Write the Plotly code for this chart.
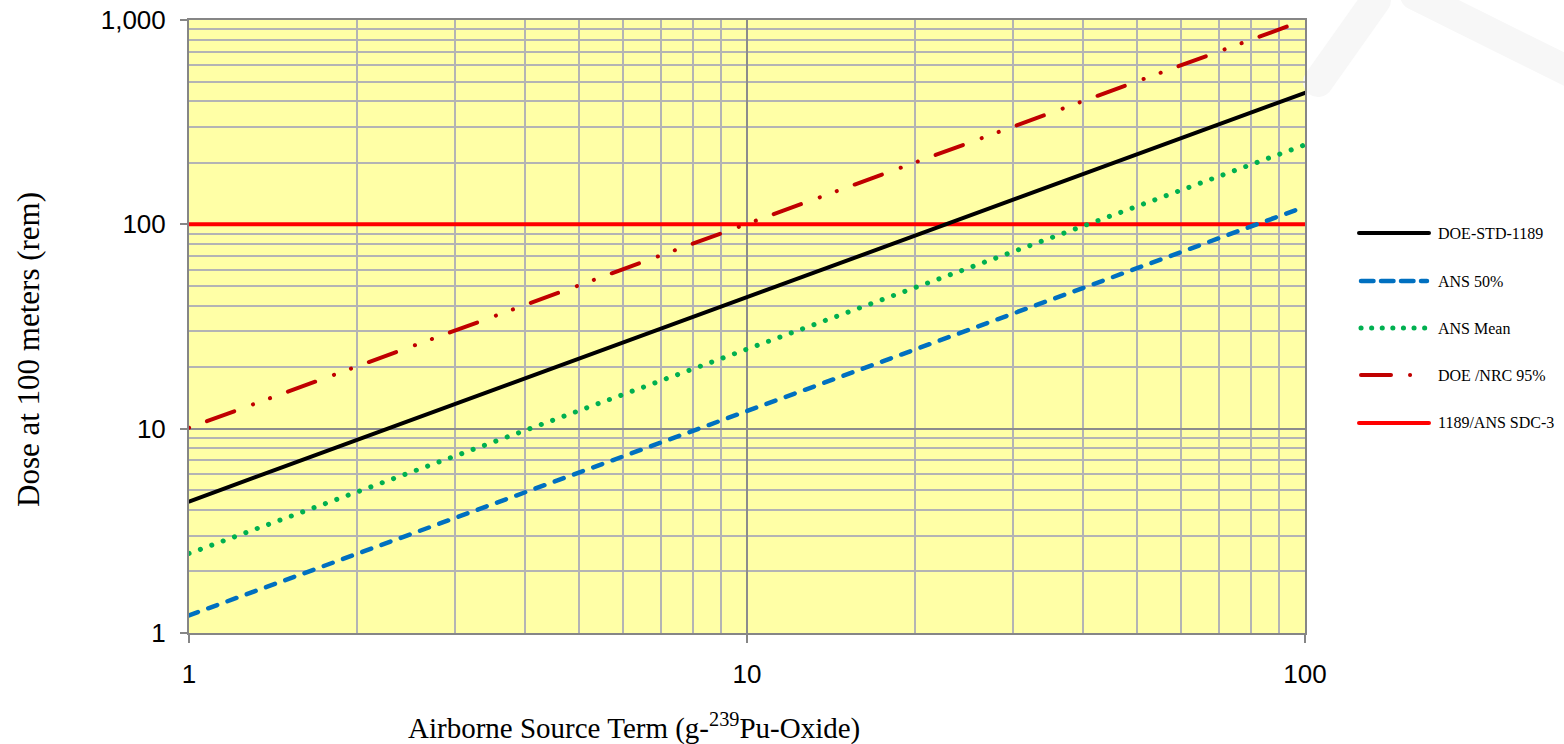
import plotly.graph_objects as go

# ---- data ----
source_term = [1, 100]                 # g of 239Pu-Oxide (x)
doe_std_1189 = [4.4, 440]              # rem
ans_50 = [1.22, 122]
ans_mean = [2.45, 245]
doe_nrc_95 = [10.1, 1000]
sdc3_limit = [100, 100]

series_names = ["DOE-STD-1189", "ANS 50%", "ANS Mean", "DOE /NRC 95%", "1189/ANS SDC-3"]
y_tickvals = [1, 10, 100, 1000]
y_ticktext = ["1", "10", "100", "1,000"]
x_tickvals = [1, 10, 100]
x_ticktext = ["1", "10", "100"]

# ---- geometry helpers (pixel -> paper) ----
W, H = 1564, 744
L, R, T, B = 189, 1305, 20, 633
def px(x): return (x - L) / (R - L)
def py(y): return (B - y) / (B - T)

styles = [
    dict(color="#000000", width=4, dash="solid"),
    dict(color="#0070C0", width=4.5, dash="9.5px,11px"),
    dict(color="#00B050", width=5, dash="0.1px,12px"),
    dict(color="#C00000", width=4, dash="0.1px,19px,29px,20px,0.1px,18px"),
    dict(color="#FF0000", width=4, dash="solid"),
]
series = [doe_std_1189, ans_50, ans_mean, doe_nrc_95, sdc3_limit]

fig = go.Figure()
order = [4, 0, 1, 2, 3]
for i in order:
    fig.add_trace(go.Scatter(
        x=source_term, y=series[i], mode="lines", name=series_names[i],
        line=dict(color=styles[i]["color"], width=styles[i]["width"], dash=styles[i]["dash"]),
        showlegend=False, hoverinfo="skip"))

serif = "Liberation Serif, Times New Roman, serif"
sans = "Liberation Sans, Arial, sans-serif"

shapes = []
annotations = []
# faint watermark outside the plot area
shapes.append(dict(type="line", xref="paper", yref="paper",
                   x0=px(1318), y0=py(82), x1=px(1376), y1=py(0),
                   line=dict(color="#f7f7f7", width=30), layer="below"))
shapes.append(dict(type="line", xref="paper", yref="paper",
                   x0=px(1415), y0=py(-5), x1=px(1570), y1=py(72),
                   line=dict(color="#f7f7f7", width=30), layer="below"))

# manual legend
leg_y = [233, 281, 328, 375, 423]
leg_dash = ["solid", "12.5px,7.5px", "0.1px,10.5px", "30px,19px,0.1px,100px", "solid"]
leg_x0 = [1359, 1361, 1361, 1361, 1359]
leg_x1 = [1429, 1427, 1427, 1427, 1429]
for i in range(5):
    shapes.append(dict(type="line", xref="paper", yref="paper",
                       x0=px(leg_x0[i]), x1=px(leg_x1[i]), y0=py(leg_y[i]), y1=py(leg_y[i]),
                       line=dict(color=styles[i]["color"], width=styles[i]["width"], dash=leg_dash[i])))
    annotations.append(dict(xref="paper", yref="paper", x=px(1436), y=py(leg_y[i]),
                            xanchor="left", yanchor="middle", showarrow=False,
                            text=series_names[i], font=dict(family=serif, size=16, color="#000000")))

# axis titles
annotations.append(dict(xref="paper", yref="paper", x=px(28), y=py(350), textangle=-90,
                        xanchor="center", yanchor="middle", showarrow=False,
                        text="Dose at 100 meters (rem)", font=dict(family=serif, size=31, color="#000000")))
annotations.append(dict(xref="paper", yref="paper", x=px(634), y=py(726),
                        xanchor="center", yanchor="middle", showarrow=False,
                        text="Airborne Source Term (g-<sup>239</sup>Pu-Oxide)",
                        font=dict(family=serif, size=29, color="#000000")))

major_grid = "#8c8c8c"
minor_grid = "#b4b4b4"
axis_line = "#868686"

fig.update_layout(
    width=W, height=H,
    margin=dict(l=L, r=W - R, t=T, b=H - B, autoexpand=False),
    paper_bgcolor="#ffffff", plot_bgcolor="#FFFFA6",
    showlegend=False,
    shapes=shapes, annotations=annotations,
    xaxis=dict(type="log", range=[0, 2], tickvals=x_tickvals, ticktext=x_ticktext,
               automargin=False,
               showgrid=True, gridcolor=major_grid, gridwidth=1.5,
               minor=dict(dtick="D1", showgrid=True, gridcolor=minor_grid, gridwidth=1.5, ticks=""),
               showline=True, linecolor=axis_line, linewidth=2, mirror=True,
               ticks="outside", ticklen=8, tickwidth=2, tickcolor=axis_line,
               ticklabelstandoff=9,
               tickfont=dict(family=sans, size=26, color="#000000"), zeroline=False),
    yaxis=dict(type="log", range=[0, 3], tickvals=y_tickvals, ticktext=y_ticktext,
               automargin=False,
               showgrid=True, gridcolor=major_grid, gridwidth=1.5,
               minor=dict(dtick="D1", showgrid=True, gridcolor=minor_grid, gridwidth=1.5, ticks=""),
               showline=True, linecolor=axis_line, linewidth=2, mirror=True,
               ticks="outside", ticklen=7, tickwidth=2, tickcolor=axis_line,
               ticklabelstandoff=9,
               tickfont=dict(family=sans, size=26, color="#000000"), zeroline=False),
)

post = """
document.body.style.margin = '0';
document.body.style.overflow = 'hidden';
document.querySelectorAll('.scatterlayer path.js-line, .shapelayer path').forEach(function(p){
  p.style.strokeLinecap = 'round';
});
"""
fig.write_html("out.html", post_script=post, config={"displayModeBar": False})
